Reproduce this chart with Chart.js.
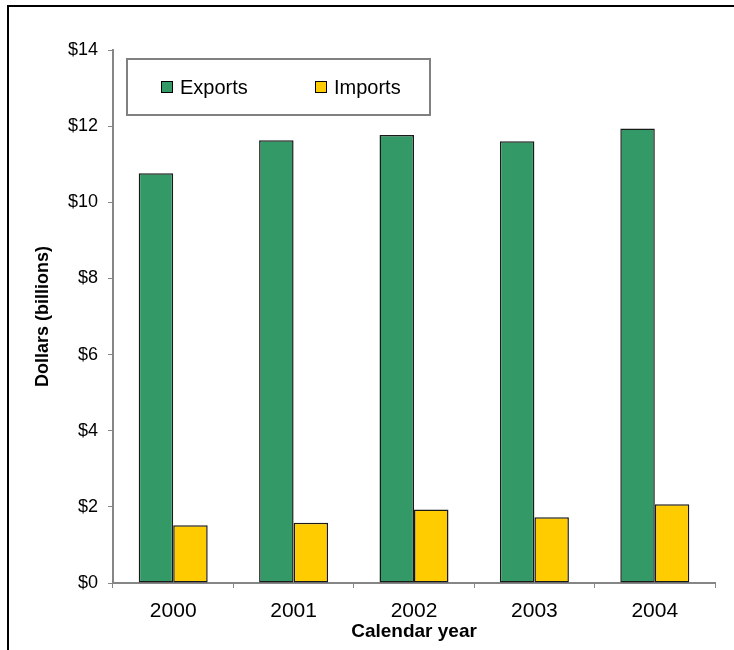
<!DOCTYPE html>
<html>
<head>
<meta charset="utf-8">
<script src="https://cdn.jsdelivr.net/npm/chart.js@4"></script>
<style>
  html, body { margin: 0; padding: 0; background: #fff; }
  #wrap { position: relative; width: 734px; height: 650px; }
  #frame { position: absolute; left: 7px; top: 5px; width: 740px; height: 660px;
           border-top: 2px solid #000; border-left: 2px solid #000; box-sizing: border-box; }
  canvas { position: absolute; left: 0; top: 0; }
</style>
</head>
<body>
<div id="wrap">
  <div id="frame"></div>
  <canvas id="c" width="734" height="650"></canvas>
</div>
<script>
// ---- data ----
const years = ['2000', '2001', '2002', '2003', '2004'];
const exportsBillions = [10.76, 11.63, 11.77, 11.60, 11.94];
const importsBillions = [1.52, 1.58, 1.93, 1.73, 2.07];
const seriesNames = ['Exports', 'Imports'];
const yMin = 0, yMax = 14, yStep = 2;
const xTitle = 'Calendar year';
const yTitle = 'Dollars (billions)';

const FONT = "'Liberation Sans', Arial, Helvetica, sans-serif";
const GREEN = '#339966';
const YELLOW = '#FFCC00';
const AXIS = '#868686';

// legend drawn as a framed box inside the plot area
const boxLegend = {
  id: 'boxLegend',
  afterDraw(chart) {
    const ctx = chart.ctx;
    const a = chart.chartArea;
    const L = a.left + 14, T = a.top + 9, W = 303, H = 56;
    ctx.save();
    ctx.strokeStyle = '#808080';
    ctx.lineWidth = 2;
    ctx.strokeRect(L, T, W, H);
    const offs = [34, 188];
    ctx.font = '20px ' + FONT;
    ctx.textBaseline = 'middle';
    ctx.textAlign = 'left';
    chart.data.datasets.forEach((ds, i) => {
      const x = L + offs[i], cy = T + 28;
      ctx.fillStyle = ds.backgroundColor;
      ctx.fillRect(x, cy - 6, 12, 12);
      ctx.strokeStyle = '#000';
      ctx.lineWidth = 1;
      ctx.strokeRect(x + 0.5, cy - 5.5, 11, 11);
      ctx.fillStyle = '#000';
      ctx.fillText(ds.label, x + 19, cy + 1);
    });
    ctx.restore();
  }
};

new Chart(document.getElementById('c'), {
  type: 'bar',
  data: {
    labels: years,
    datasets: [
      { label: seriesNames[0], data: exportsBillions, backgroundColor: GREEN,
        borderColor: '#1a1a1a', borderWidth: 1.5, borderSkipped: false },
      { label: seriesNames[1], data: importsBillions, backgroundColor: YELLOW,
        borderColor: '#1a1a1a', borderWidth: 1.5, borderSkipped: false }
    ]
  },
  options: {
    responsive: false,
    animation: false,
    devicePixelRatio: 1,
    layout: { padding: { top: 50, right: 19, bottom: 0, left: 0 } },
    datasets: { bar: { categoryPercentage: 0.573, barPercentage: 1.0 } },
    plugins: {
      legend: { display: false },
      tooltip: { enabled: false },
      title: { display: false }
    },
    scales: {
      x: {
        offset: true,
        grid: { display: true, drawOnChartArea: false, drawTicks: true, tickLength: 5,
                color: AXIS, lineWidth: 1, offset: true },
        border: { display: true, color: AXIS, width: 2 },
        ticks: { color: '#000', font: { family: FONT, size: 21 }, padding: 11,
                 maxRotation: 0, autoSkip: false },
        title: { display: true, text: xTitle, color: '#000',
                 font: { family: FONT, size: 19, weight: 'bold' },
                 padding: { top: 0, bottom: 7 } },
        afterFit(scale) { scale.height = 67; }
      },
      y: {
        min: yMin, max: yMax,
        grid: { display: true, drawOnChartArea: false, drawTicks: true, tickLength: 5,
                color: AXIS, lineWidth: 1 },
        border: { display: true, color: AXIS, width: 2 },
        ticks: { stepSize: yStep, color: '#000', font: { family: FONT, size: 18 }, padding: 10,
                 callback: (v) => '$' + v },
        title: { display: true, text: yTitle, color: '#000',
                 font: { family: FONT, size: 18, weight: 'bold' },
                 padding: { top: 32, bottom: 0 } },
        afterFit(scale) { scale.width = 113; }
      }
    }
  },
  plugins: [boxLegend]
});
</script>
</body>
</html>
